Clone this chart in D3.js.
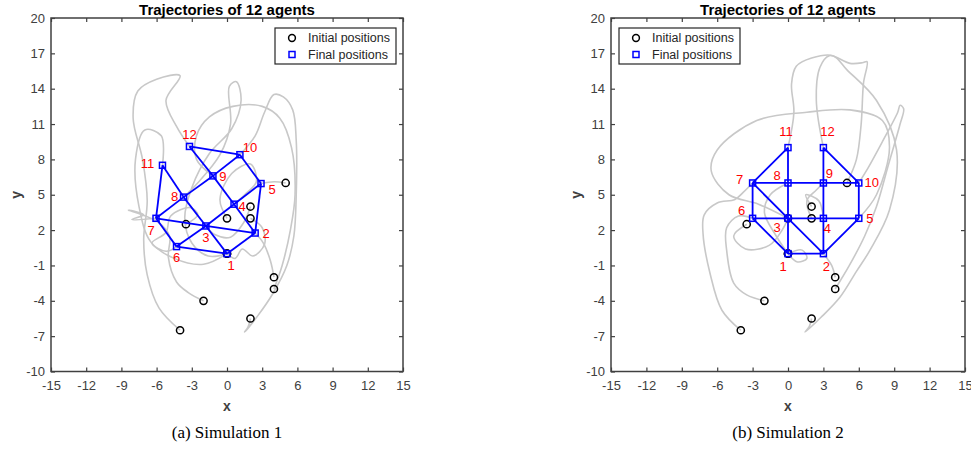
<!DOCTYPE html>
<html>
<head>
<meta charset="utf-8">
<script src="https://cdn.jsdelivr.net/npm/d3@7"></script>
<style>
  body { margin: 0; background: #fff; }
  svg { display: block; font-family: Arial, "Liberation Sans", sans-serif; }
  .tick text { fill: #404040; font-size: 13px; }
  .tick line { stroke: #404040; stroke-width: 1.2; }
</style>
</head>
<body>
<svg id="chart" width="971" height="449"></svg>
<script>
// shared data
const xTicks = [-15, -12, -9, -6, -3, 0, 3, 6, 9, 12, 15];
const yTicks = [-10, -7, -4, -1, 2, 5, 8, 11, 14, 17, 20];

// initial positions (the same in both simulations), agent order A..L
const initialPos = [
  [5, 6], [2, 4], [0, 3], [2, 3], [-3.5, 2.5], [4, -2],
  [4, -3], [-2, -4], [2, -5.5], [-4, -6.5], [0, 0], [0, 0]
];

// final formation, index = agent label - 1
const finalPos1 = [
  [0, 0], [2.4, 1.75], [-1.8, 2.35], [0.6, 4.2], [2.9, 5.95], [-4.3, 0.6],
  [-6.05, 3.0], [-3.7, 4.8], [-1.2, 6.6], [1.1, 8.4], [-5.5, 7.5], [-3.2, 9.1]
];
const finalPos2 = [
  [0, 0], [3, 0], [0, 3], [3, 3], [6, 3], [-3, 3],
  [-3, 6], [0, 6], [3, 6], [6, 6], [0, 9], [3, 9]
];

// communication graph (1-based labels)
const edges = [
  [7, 11], [11, 8], [7, 8], [8, 9], [9, 10], [12, 9], [12, 10],
  [7, 6], [7, 3], [8, 3], [9, 4], [10, 5], [6, 3], [3, 4], [4, 5],
  [6, 1], [3, 1], [3, 2], [4, 2], [5, 2], [1, 2]
];

// trajectories, waypoints
const traj1 = [
  [[2, 3], [3, 2.2], [3.2, 0.8], [2.2, -0.2], [1.3, 0.4], [0.7, -0.4], [0, 0]],
  [[4, -2], [3.7, -0.6], [3.1, 0.9], [2.4, 1.75]],
  [[2, 4], [1.4, 2.6], [0.3, 1.4], [-1, 1.6], [-1.8, 2.35]],
  [[0, 3], [-0.6, 4.6], [0.4, 6.8], [2, 7.6], [2.5, 6.1], [1.5, 5], [0.6, 4.2]],
  [[5, 6], [4, 6.1], [2.9, 5.95]],
  [[-3.5, 2.5], [-2.5, 3.3], [-3.1, 3.9], [-4.8, 3.2], [-5.2, 1.8], [-6.4, 0.9], [-5.2, 0.2], [-4.3, 0.6]],
  [[-2, -4], [-3.3, -3.3], [-4.3, -2.4], [-5, -0.3], [-4.9, 1.5], [-5.9, 2.7], [-8.4, 3.7], [-7.1, 3.3], [-8.1, 2.9], [-6.05, 3.0]],
  [[0, 0], [-1.6, -0.2], [-3, 0.9], [-3.6, 3], [-3, 5.6], [-1.5, 8.5], [0.4, 10.6], [1.2, 13], [0.8, 14.6], [0.2, 14.2], [0.3, 11], [-0.6, 8.4], [-2.5, 6], [-3.7, 4.8]],
  [[4, -3], [4.7, -1], [5.4, 2], [5.8, 5], [5.5, 9], [4.5, 11.5], [3, 12.5], [0.5, 12.5], [-1.5, 11.6], [-2.6, 10], [-2.6, 8], [-1.2, 6.6]],
  [[2, -5.5], [1.8, -6.2], [1.5, -6.65], [2.6, -5.3], [3.9, -3.4], [5.1, -1], [5.7, 1.5], [5.9, 5], [5.9, 9.6], [5.6, 12.2], [4.8, 13.3], [4, 13.5], [3.2, 12], [2.4, 10], [1.1, 8.4]],
  [[0, 0], [-2, -0.9], [-4.5, -0.4], [-6.5, 1], [-7.5, 4], [-7.8, 8], [-7, 10.5], [-5.6, 10], [-5.5, 7.5]],
  [[-4, -6.5], [-5.8, -4.6], [-6.8, -1.8], [-7.1, 1.2], [-6.8, 4.5], [-7.2, 8], [-8, 11.5], [-7.6, 13.8], [-6, 14.8], [-4, 15.1], [-5.2, 13], [-4.3, 10.8], [-3.2, 9.1]]
];
const traj2 = [
  [[0, 0], [1.2, 0.3], [1.6, -0.4], [0.8, -0.7], [0, 0]],
  [[4, -2], [3.7, -1], [3, 0]],
  [[-3.5, 2.5], [-4.6, 1.5], [-3.6, 0.4], [-1.6, 0.7], [-0.5, 2], [0, 3]],
  [[2, 4], [1.5, 5], [2.6, 4.5], [3, 3]],
  [[0, 3], [-2.5, 4.2], [-5, 5], [-6.5, 7], [-6, 8.8], [-2.65, 11.3], [1.6, 12], [5.25, 12.2], [8, 11.3], [8.6, 9], [7.5, 5], [6, 3]],
  [[-2, -4], [-3.5, -3.5], [-4.6, -2.5], [-5.2, 0.3], [-5.2, 2.2], [-4.2, 3.2], [-3, 3]],
  [[-4, -6.5], [-5.6, -4.8], [-6.6, -1.7], [-7.2, 1.7], [-7.1, 3.3], [-6, 4.3], [-4.5, 4.6], [-3.8, 5.2], [-3, 6]],
  [[0, 0], [-1, 1.5], [-2, 3.5], [-1.5, 5], [0, 6]],
  [[2, 3], [1.6, 4.5], [2.4, 5.4], [3, 6]],
  [[4, -3], [5.2, -1], [6.5, 1.5], [7.5, 4], [8.5, 7.5], [9.5, 11], [9.8, 12.3], [9.5, 12.6], [9.3, 12], [8, 9.5], [6.8, 7.3], [6, 6]],
  [[2, -5.5], [1.8, -6.2], [1.45, -6.65], [2.8, -5.4], [4.4, -3.7], [5.8, -1.5], [6.95, 0.3], [8.6, 3.7], [9.2, 8.8], [7.5, 13], [5, 15.6], [3.8, 16.8], [2, 16.6], [0.7, 15.9], [0.3, 14.4], [0.5, 12], [0, 9]],
  [[5, 6], [5.8, 8], [6.2, 11], [6.4, 14.5], [6.7, 16.3], [6.3, 16.2], [5.25, 16.15], [3.5, 16.8], [2.7, 15.8], [2.4, 13], [3, 9]]
];

// label offsets in px (layout only)
const labelOff1 = [[4, 12], [11, 0], [0, 12], [8, 2], [11, 6], [0, 11], [-5, 12], [-9, -1], [10, 1], [10, -7], [-15, -2], [0, -12]];
const labelOff2 = [[-5, 13], [3, 13], [-11, 9], [4, 10], [11, 0], [-11, -8], [-13, -3], [-11, -7], [6, -9], [13, 0], [-2, -16], [4, -16]];

const svg = d3.select("#chart");
const fmt = d => String(d);   // plain hyphen minus, like the original

function panel(cfg) {
  const x = d3.scaleLinear().domain([-15, 15]).range([cfg.left, cfg.right]);
  const y = d3.scaleLinear().domain([-10, 20]).range([371.5, 18]);
  const g = svg.append("g");

  // axes with inward ticks on all sides
  g.append("g").attr("transform", `translate(0,${y(-10)})`)
    .call(d3.axisBottom(x).tickValues(xTicks).tickSize(-4).tickPadding(9).tickFormat(fmt))
    .call(a => a.select(".domain").remove());
  g.append("g").attr("transform", `translate(0,${y(20)})`)
    .call(d3.axisTop(x).tickValues(xTicks).tickSize(-4).tickFormat(""))
    .call(a => a.select(".domain").remove());
  g.append("g").attr("transform", `translate(${x(-15)},0)`)
    .call(d3.axisLeft(y).tickValues(yTicks).tickSize(-4).tickPadding(6).tickFormat(fmt))
    .call(a => a.select(".domain").remove());
  g.append("g").attr("transform", `translate(${x(15)},0)`)
    .call(d3.axisRight(y).tickValues(yTicks).tickSize(-4).tickFormat(""))
    .call(a => a.select(".domain").remove());

  g.append("rect")
    .attr("x", x(-15)).attr("y", y(20))
    .attr("width", x(15) - x(-15)).attr("height", y(-10) - y(20))
    .attr("fill", "none").attr("stroke", "#404040").attr("stroke-width", 1.5);

  // trajectories
  const line = d3.line().x(d => x(d[0])).y(d => y(d[1])).curve(d3.curveCatmullRom.alpha(0.5));
  g.selectAll(".traj").data(cfg.traj).enter().append("path")
    .attr("d", line).attr("fill", "none")
    .attr("stroke", "#c8c8c8").attr("stroke-width", 1.6);

  // initial positions
  g.selectAll(".init").data(initialPos).enter().append("circle")
    .attr("cx", d => x(d[0])).attr("cy", d => y(d[1])).attr("r", 3.6)
    .attr("fill", "none").attr("stroke", "#000").attr("stroke-width", 1.5);

  // formation graph
  g.selectAll(".edge").data(edges).enter().append("line")
    .attr("x1", d => x(cfg.fin[d[0] - 1][0])).attr("y1", d => y(cfg.fin[d[0] - 1][1]))
    .attr("x2", d => x(cfg.fin[d[1] - 1][0])).attr("y2", d => y(cfg.fin[d[1] - 1][1]))
    .attr("stroke", "#0000ff").attr("stroke-width", 1.8);

  g.selectAll(".fin").data(cfg.fin).enter().append("rect")
    .attr("x", d => x(d[0]) - 3).attr("y", d => y(d[1]) - 3)
    .attr("width", 6).attr("height", 6)
    .attr("fill", "none").attr("stroke", "#0000ff").attr("stroke-width", 1.5);

  g.selectAll(".lab").data(cfg.fin).enter().append("text")
    .attr("x", (d, i) => x(d[0]) + cfg.off[i][0])
    .attr("y", (d, i) => y(d[1]) + cfg.off[i][1])
    .attr("text-anchor", "middle").attr("dominant-baseline", "central")
    .attr("fill", "#ff0000").style("font-size", "13px")
    .text((d, i) => i + 1);

  // title and axis labels
  const cx = (x(-15) + x(15)) / 2;
  g.append("text").attr("x", cx).attr("y", 15).attr("text-anchor", "middle")
    .style("font-size", "15px").style("font-weight", "bold").attr("fill", "#000")
    .text("Trajectories of 12 agents");
  g.append("text").attr("x", cx).attr("y", 411).attr("text-anchor", "middle")
    .style("font-size", "14px").style("font-weight", "bold").attr("fill", "#404040")
    .text("x");
  g.append("text").attr("transform", `translate(${x(-15) - 35},${y(5)}) rotate(-90)`)
    .attr("text-anchor", "middle").attr("dominant-baseline", "central")
    .style("font-size", "14px").style("font-weight", "bold").attr("fill", "#404040")
    .text("y");

  // legend
  const lg = g.append("g").attr("transform", `translate(${cfg.legX},28)`);
  lg.append("rect").attr("width", 121).attr("height", 36)
    .attr("fill", "#fff").attr("stroke", "#262626").attr("stroke-width", 1.2);
  lg.append("circle").attr("cx", 17).attr("cy", 10).attr("r", 3.4)
    .attr("fill", "none").attr("stroke", "#000").attr("stroke-width", 1.5);
  lg.append("rect").attr("x", 14).attr("y", 23.5).attr("width", 6).attr("height", 6)
    .attr("fill", "none").attr("stroke", "#0000ff").attr("stroke-width", 1.5);
  lg.append("text").attr("x", 33).attr("y", 10).attr("dominant-baseline", "central")
    .style("font-size", "12.5px").attr("fill", "#262626").text("Initial positions");
  lg.append("text").attr("x", 33).attr("y", 26.5).attr("dominant-baseline", "central")
    .style("font-size", "12.5px").attr("fill", "#262626").text("Final positions");

  // caption
  svg.append("text").attr("x", cx).attr("y", 438).attr("text-anchor", "middle")
    .style("font-family", "'Liberation Serif', 'Times New Roman', serif")
    .style("font-size", "17px").attr("fill", "#000")
    .text(cfg.caption);
}

panel({left: 51, right: 403, traj: traj1, fin: finalPos1, off: labelOff1, legX: 275, caption: "(a) Simulation 1"});
panel({left: 611, right: 965, traj: traj2, fin: finalPos2, off: labelOff2, legX: 619, caption: "(b) Simulation 2"});
</script>
</body>
</html>
